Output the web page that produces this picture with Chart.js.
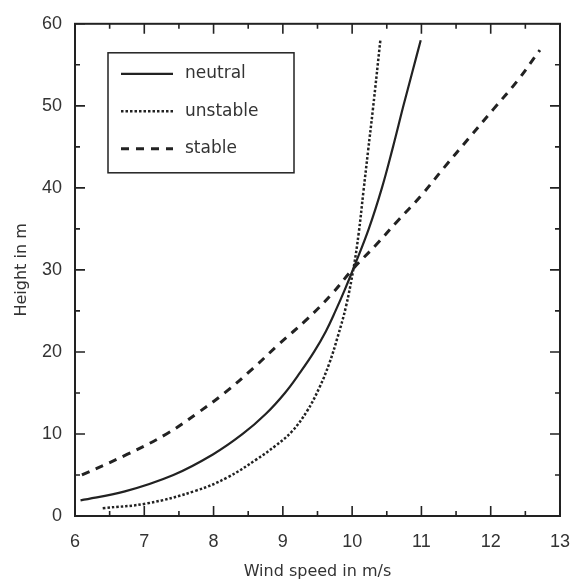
<!DOCTYPE html>
<html>
<head>
<meta charset="utf-8">
<script src="https://cdn.jsdelivr.net/npm/chart.js@4"></script>
<style>
  body { margin: 0; background: #fff; }
  #wrap { width: 585px; height: 583px; }
</style>
</head>
<body>
<div id="wrap"><canvas id="wind" width="585" height="583"></canvas></div>
<script>
// Значения (скорость ветра в м/с, высота в м)
const neutralSpeed  = [6.08, 6.72, 7.42, 7.99, 8.42, 8.76, 9.03, 9.25, 9.45, 9.62, 9.76, 9.89, 10.02, 10.24, 10.43, 10.59, 10.74, 10.865, 10.99];
const neutralHeight = [1.9, 3.0, 5.0, 7.5, 10.0, 12.5, 15.0, 17.5, 20.0, 22.5, 25.0, 27.5, 30.2, 35.0, 40.0, 45.0, 50.0, 54.0, 58.0];

const unstableSpeed  = [6.40, 7.05, 7.75, 8.20, 8.62, 8.90, 9.13, 9.35, 9.53, 9.67, 9.79, 9.91, 10.02, 10.095, 10.165, 10.23, 10.30, 10.41];
const unstableHeight = [0.95, 1.55, 3.1, 4.7, 6.9, 8.6, 10.3, 12.8, 15.7, 18.6, 21.8, 25.5, 30.2, 34.5, 39.7, 44.5, 49.6, 58.2];

const stableSpeed  = [6.10, 6.75, 7.32, 7.76, 8.16, 8.57, 8.95, 9.35, 9.70, 10.02, 10.34, 10.66, 10.99, 11.33, 11.68, 12.04, 12.38, 12.71];
const stableHeight = [5.0, 7.5, 10.0, 12.5, 15.0, 18.0, 21.0, 24.0, 27.0, 30.2, 33.0, 36.0, 39.0, 42.5, 46.0, 49.6, 53.0, 56.8];

const seriesLabels = ['neutral', 'unstable', 'stable'];

const xTickValues = [6, 7, 8, 9, 10, 11, 12, 13];
const yTickValues = [0, 10, 20, 30, 40, 50, 60];

function toPoints(xs, ys) {
    return xs.map((x, i) => ({ x: x, y: ys[i] }));
}

const ink = '#222';

// Рамка и засечки внутрь, как в оригинале
const framePlugin = {
    id: 'frame',
    afterDraw(chart) {
        const ctx = chart.ctx;
        const a = chart.chartArea;
        const xs = chart.scales.x;
        const ys = chart.scales.y;
        ctx.save();
        ctx.strokeStyle = ink;
        ctx.lineWidth = 2;
        ctx.setLineDash([]);
        ctx.strokeRect(a.left, a.top, a.right - a.left, a.bottom - a.top);
        ctx.lineWidth = 1.6;
        ctx.beginPath();
        for (let v = xs.min; v <= xs.max; v += 0.5) {
            const px = xs.getPixelForValue(v);
            const len = Number.isInteger(v) ? 10 : 5;
            ctx.moveTo(px, a.bottom); ctx.lineTo(px, a.bottom - len);
            ctx.moveTo(px, a.top); ctx.lineTo(px, a.top + len);
        }
        for (let v = ys.min; v <= ys.max; v += 5) {
            const py = ys.getPixelForValue(v);
            const len = v % 10 === 0 ? 10 : 5;
            ctx.moveTo(a.left, py); ctx.lineTo(a.left + len, py);
            ctx.moveTo(a.right, py); ctx.lineTo(a.right - len, py);
        }
        ctx.stroke();
        ctx.restore();
    }
};

// Легенда в рамке внутри области графика
const boxLegendPlugin = {
    id: 'boxLegend',
    afterDraw(chart) {
        const ctx = chart.ctx;
        const a = chart.chartArea;
        const left = a.left + 33, top = a.top + 29;
        const w = 186, h = 120;
        ctx.save();
        ctx.strokeStyle = ink;
        ctx.lineWidth = 1.5;
        ctx.setLineDash([]);
        ctx.strokeRect(left, top, w, h);
        chart.data.datasets.forEach((ds, i) => {
            const y = top + 21 + i * 37.5;
            ctx.strokeStyle = ds.borderColor;
            ctx.lineWidth = ds.borderWidth;
            ctx.setLineDash(ds.borderDash || []);
            ctx.beginPath();
            ctx.moveTo(left + 13, y);
            ctx.lineTo(left + 65, y);
            ctx.stroke();
            ctx.setLineDash([]);
            ctx.fillStyle = '#333';
            ctx.font = '17px "DejaVu Sans"';
            ctx.textBaseline = 'middle';
            ctx.fillText(ds.label, left + 77, y);
        });
        ctx.restore();
    }
};

const ctx = document.getElementById('wind').getContext('2d');
new Chart(ctx, {
    type: 'scatter',
    data: {
        datasets: [{
            label: seriesLabels[0],
            data: toPoints(neutralSpeed, neutralHeight),
            showLine: true,
            borderColor: ink,
            borderWidth: 2.2,
            pointRadius: 0,
            tension: 0.4
        }, {
            label: seriesLabels[1],
            data: toPoints(unstableSpeed, unstableHeight),
            showLine: true,
            borderColor: ink,
            borderWidth: 2.5,
            borderDash: [2.5, 2],
            pointRadius: 0,
            tension: 0.4
        }, {
            label: seriesLabels[2],
            data: toPoints(stableSpeed, stableHeight),
            showLine: true,
            borderColor: ink,
            borderWidth: 3,
            borderDash: [8, 7],
            pointRadius: 0,
            tension: 0.4
        }]
    },
    options: {
        responsive: false,
        animation: false,
        layout: { padding: { top: 13, right: 10, left: 0, bottom: 0 } },
        plugins: {
            legend: { display: false },
            tooltip: { enabled: false }
        },
        scales: {
            x: {
                type: 'linear',
                min: 6,
                max: 13,
                afterBuildTicks: (s) => { s.ticks = xTickValues.map(v => ({ value: v })); },
                afterFit: (s) => { s.height = 67; },
                grid: { display: false, drawTicks: false },
                border: { display: false },
                ticks: {
                    padding: 15,
                    color: '#333',
                    font: { family: '"Liberation Sans", Arial', size: 18 }
                },
                title: {
                    display: true,
                    text: 'Wind speed in m/s',
                    color: '#333',
                    font: { family: '"DejaVu Sans"', size: 16 },
                    padding: { top: 0, bottom: 2 }
                }
            },
            y: {
                type: 'linear',
                min: 0,
                max: 60,
                afterBuildTicks: (s) => { s.ticks = yTickValues.map(v => ({ value: v })); },
                afterFit: (s) => { s.width = 75; },
                grid: { display: false, drawTicks: false },
                border: { display: false },
                ticks: {
                    padding: 13,
                    color: '#333',
                    font: { family: '"Liberation Sans", Arial', size: 18 }
                },
                title: {
                    display: true,
                    text: 'Height in m',
                    color: '#333',
                    font: { family: '"DejaVu Sans"', size: 16 },
                    padding: { top: 12, bottom: 0 }
                }
            }
        }
    },
    plugins: [framePlugin, boxLegendPlugin]
});
</script>
</body>
</html>
